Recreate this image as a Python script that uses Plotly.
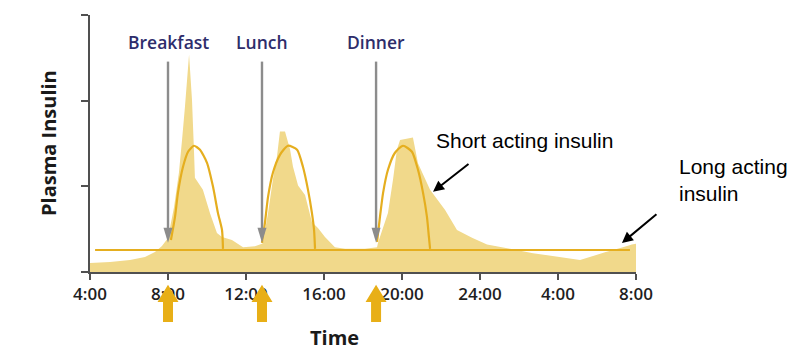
import plotly.graph_objects as go

# Time axis runs in hours from 4:00 to 8:00 the next morning (4 .. 32)
tick_hours = [4, 8, 12, 16, 20, 24, 28, 32]
tick_labels = ["4:00", "8:00", "12:00", "16:00", "20:00", "24:00", "4:00", "8:00"]

# Physiological plasma insulin profile (shaded area)
plasma_hours = [4.0, 5.03, 6.05, 6.82, 7.33, 7.69, 8.0, 8.31, 8.56, 8.72, 8.87, 9.08,
                9.23, 9.33, 9.38, 9.79, 10.15, 10.51, 10.77, 11.28, 11.85, 12.46, 12.82,
                12.87, 13.13, 13.38, 13.59, 13.74, 14.0, 14.26, 14.41, 14.67, 15.03,
                15.38, 15.69, 16.05, 16.56, 17.08, 18.10, 18.72,
                18.77, 19.28, 19.54, 19.74, 19.90, 20.56, 20.82, 21.44, 22.21, 22.82,
                23.59, 24.36, 25.54, 26.72, 29.13, 30.41, 31.33, 31.79, 32.0]
plasma_level = [0.105, 0.117, 0.14, 0.175, 0.234, 0.304, 0.398, 0.76, 1.16, 1.54, 1.93, 2.54,
                2.01, 1.43, 1.10, 0.96, 0.69, 0.456, 0.41, 0.374, 0.29, 0.30, 0.33,
                0.34, 0.69, 1.08, 1.35, 1.64, 1.64, 1.43, 1.23, 1.01, 0.90,
                0.585, 0.515, 0.41, 0.29, 0.27, 0.27, 0.29,
                0.34, 0.69, 1.08, 1.43, 1.54, 1.57, 1.27, 0.96, 0.725, 0.49,
                0.40, 0.32, 0.27, 0.22, 0.14, 0.23, 0.29, 0.32, 0.33]

# Short acting insulin doses (one arc per meal)
breakfast_hours = [8.15, 8.36, 8.51, 8.77, 9.03, 9.33, 9.64, 10.0, 10.31, 10.56, 10.77, 10.82]
breakfast_level = [0.374, 0.643, 0.924, 1.228, 1.404, 1.474, 1.427, 1.275, 0.994, 0.69, 0.49, 0.27]
lunch_hours = [12.82, 12.97, 13.13, 13.38, 13.74, 14.15, 14.62, 14.92, 15.18, 15.38, 15.49, 15.54]
lunch_level = [0.34, 0.573, 0.877, 1.158, 1.368, 1.474, 1.427, 1.228, 0.959, 0.69, 0.49, 0.27]
dinner_hours = [18.72, 18.87, 19.03, 19.28, 19.64, 20.05, 20.51, 20.82, 21.08, 21.28, 21.38, 21.44]
dinner_level = [0.351, 0.643, 0.924, 1.193, 1.392, 1.474, 1.404, 1.193, 0.924, 0.643, 0.409, 0.27]

# Long acting (basal) insulin
basal_hours = [4.26, 31.69]
basal_level = [0.257, 0.257]

# Meals
meal_names = ["Breakfast", "Lunch", "Dinner"]
meal_hours = [8.0, 12.82, 18.67]
meal_arrow_top = 2.456
meal_arrow_tip = 0.34
meal_label_level = 2.69

FILL = "#F1D98B"
GOLD = "#E5AE1F"
GREY = "#8C8C8C"
AXIS = "#505050"

fig = go.Figure()

fig.add_trace(go.Scatter(
    x=plasma_hours, y=plasma_level, mode="none", fill="tozeroy",
    fillcolor=FILL, hoverinfo="skip", showlegend=False))

fig.add_trace(go.Scatter(
    x=basal_hours, y=basal_level, mode="lines",
    line=dict(color=GOLD, width=2.2), hoverinfo="skip", showlegend=False))

for hx, lv in [(breakfast_hours, breakfast_level), (lunch_hours, lunch_level),
               (dinner_hours, dinner_level)]:
    fig.add_trace(go.Scatter(
        x=hx, y=lv, mode="lines", line=dict(color=GOLD, width=2.2, shape="spline", smoothing=0.6),
        hoverinfo="skip", showlegend=False))

shapes = []
annotations = []
for name, mh in zip(meal_names, meal_hours):
    # grey meal marker arrow
    shapes.append(dict(type="line", xref="x", yref="y", x0=mh, x1=mh,
                       y0=meal_arrow_top, y1=meal_arrow_tip + 0.12,
                       line=dict(color=GREY, width=2.4)))
    shapes.append(dict(type="path", xref="x", yref="y",
                       xsizemode="pixel", ysizemode="pixel",
                       xanchor=mh, yanchor=meal_arrow_tip,
                       path="M-4.5,15 L4.5,15 L0,0 Z",
                       fillcolor=GREY, line=dict(width=0)))
    # gold injection arrow under the axis
    shapes.append(dict(type="path", xref="x", yref="paper",
                       xsizemode="pixel", xanchor=mh,
                       path="M0,-0.05 L10.5,-0.117 L5,-0.117 L5,-0.195 L-5,-0.195 "
                            "L-5,-0.117 L-10.5,-0.117 Z",
                       fillcolor="#E8AF17", line=dict(width=0)))
    annotations.append(dict(x=mh, y=meal_label_level, xref="x", yref="y",
                            text=name, showarrow=False, xanchor="center", yanchor="middle",
                            font=dict(family="Open Sans", size=17.5, weight=600,
                                      color="#2E2D6B")))

# callouts
annotations.append(dict(x=0.6355, y=0.5136, xref="paper", yref="paper", xshift=-3,
                        text="Short acting insulin", showarrow=False,
                        xanchor="left", yanchor="middle",
                        font=dict(family="Liberation Sans, Arial", size=21, color="#000000")))
annotations.append(dict(x=21.59, y=0.936, xref="x", yref="y", text="",
                        showarrow=True, ax=37, ay=-29, arrowhead=2, arrowsize=1.1,
                        arrowwidth=2, arrowcolor="#000000"))
annotations.append(dict(x=1.0806, y=0.358, xref="paper", yref="paper", xshift=-3,
                        text="Long acting<br>insulin", showarrow=False, align="left",
                        xanchor="left", yanchor="middle",
                        font=dict(family="Liberation Sans, Arial", size=21, color="#000000")))
annotations.append(dict(x=31.28, y=0.339, xref="x", yref="y", text="",
                        showarrow=True, ax=36, ay=-30, arrowhead=2, arrowsize=1.1,
                        arrowwidth=2, arrowcolor="#000000"))

# axis titles
annotations.append(dict(x=0.447, y=-0.253, xref="paper", yref="paper", text="<b>Time</b>",
                        showarrow=False, xanchor="center", yanchor="middle",
                        font=dict(family="Open Sans", size=20, color="#1a1a1a")))
annotations.append(dict(x=-0.075, y=0.502, xref="paper", yref="paper",
                        text="<b>Plasma Insulin</b>", textangle=-90,
                        showarrow=False, xanchor="center", yanchor="middle",
                        font=dict(family="Open Sans", size=20, color="#1a1a1a")))

fig.update_layout(
    width=797, height=357,
    margin=dict(l=90, r=161, t=15, b=85),
    paper_bgcolor="white", plot_bgcolor="white",
    shapes=shapes, annotations=annotations,
    xaxis=dict(range=[4, 32], tickvals=tick_hours, ticktext=tick_labels,
               showgrid=False, zeroline=False, showline=True, linecolor=AXIS, linewidth=2,
               ticks="outside", ticklen=6, tickwidth=2, tickcolor=AXIS,
               tickfont=dict(family="Open Sans", size=17, weight=600, color="#1f1f1f")),
    yaxis=dict(range=[0, 3], tickvals=[0, 1, 2, 3], showticklabels=False,
               showgrid=False, zeroline=False, showline=True, linecolor=AXIS, linewidth=2,
               ticks="outside", ticklen=7, tickwidth=2, tickcolor=AXIS),
)

fig.write_html("out.html")
